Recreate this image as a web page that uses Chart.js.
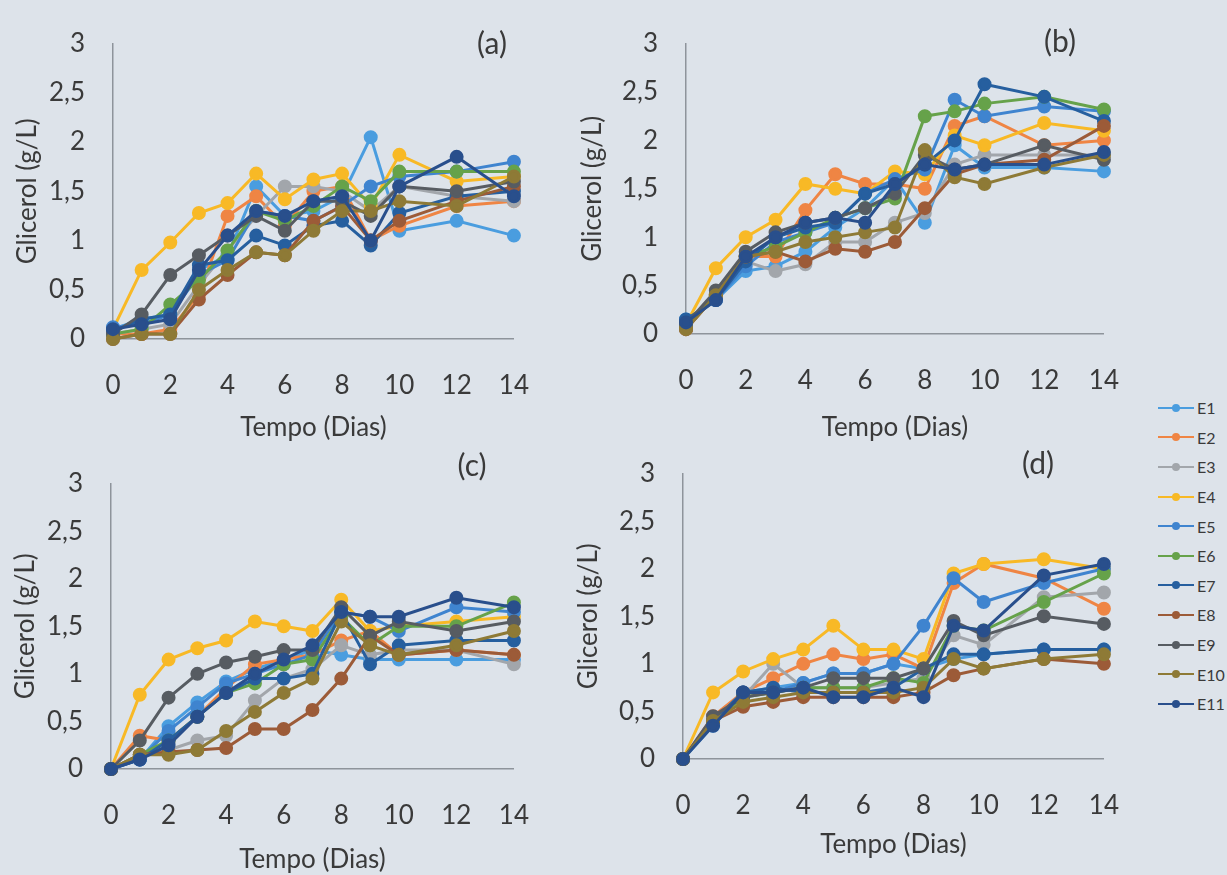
<!DOCTYPE html>
<html>
<head>
<meta charset="utf-8">
<script src="https://cdn.jsdelivr.net/npm/chart.js@4.4.1/dist/chart.umd.min.js"></script>
<style>
  body { margin: 0; width: 1227px; height: 875px; overflow: hidden; position: relative;
         background: #dde3ea; font-family: Lato, sans-serif; }
  canvas { position: absolute; }
  #legend { position: absolute; left: 1158px; top: 393px; }
  .item { height: 29.6px; display: flex; align-items: center; font-size: 16px; color: #3a3a3a; }
  .sw { position: relative; width: 36px; height: 2px; margin-right: 3px; }
  .sw i { position: absolute; left: 14px; top: -3px; width: 8px; height: 8px; border-radius: 50%; }
</style>
</head>
<body>
<canvas id="chartA" width="560" height="450" style="left:0;top:0"></canvas>
<canvas id="chartB" width="580" height="450" style="left:570px;top:0"></canvas>
<canvas id="chartC" width="560" height="435" style="left:0;top:440px"></canvas>
<canvas id="chartD" width="580" height="445" style="left:570px;top:430px"></canvas>
<div id="legend"></div>
<script>
// sampling days
const days = [0, 1, 2, 3, 4, 5, 6, 7, 8, 9, 10, 12, 14];
const xTickLabels = ['0', '2', '4', '6', '8', '10', '12', '14'];
const yTickLabels = ['0', '0,5', '1', '1,5', '2', '2,5', '3'];
const seriesNames = ['E1', 'E2', 'E3', 'E4', 'E5', 'E6', 'E7', 'E8', 'E9', 'E10', 'E11'];
const seriesColors = ['#4a9ddf', '#ef8544', '#a2a6ab', '#f8b926', '#3f84cf', '#66a24a',
                      '#265f9f', '#9c5b38', '#575c62', '#8e7a36', '#294f8c'];

// glicerol (g/L), one row per series E1..E11
const glicerolA = [
  [0.10, 0.20, 0.25, 0.70, 0.85, 1.55, 1.25, 1.30, 1.45, 2.05, 1.10, 1.20, 1.05],
  [0.05, 0.05, 0.10, 0.45, 1.25, 1.45, 1.15, 1.50, 1.55, 1.00, 1.15, 1.35, 1.40],
  [0.05, 0.10, 0.15, 0.55, 0.90, 1.25, 1.55, 1.55, 1.50, 1.30, 1.55, 1.45, 1.40],
  [0.10, 0.70, 0.98, 1.28, 1.38, 1.68, 1.42, 1.62, 1.68, 1.35, 1.87, 1.60, 1.65],
  [0.12, 0.15, 0.25, 0.65, 0.80, 1.30, 1.25, 1.20, 1.35, 1.55, 1.65, 1.70, 1.80],
  [0.05, 0.10, 0.35, 0.60, 0.90, 1.30, 1.20, 1.35, 1.55, 1.40, 1.70, 1.70, 1.70],
  [0.08, 0.20, 0.25, 0.75, 0.80, 1.05, 0.95, 1.15, 1.20, 0.95, 1.28, 1.45, 1.50],
  [0.00, 0.05, 0.05, 0.40, 0.65, 0.88, 0.85, 1.20, 1.35, 1.00, 1.20, 1.40, 1.55],
  [0.05, 0.25, 0.65, 0.85, 1.05, 1.25, 1.10, 1.40, 1.40, 1.25, 1.55, 1.50, 1.60],
  [0.00, 0.05, 0.05, 0.50, 0.70, 0.88, 0.85, 1.10, 1.30, 1.30, 1.40, 1.35, 1.65],
  [0.10, 0.15, 0.20, 0.70, 1.05, 1.30, 1.25, 1.40, 1.45, 1.00, 1.55, 1.85, 1.45]
];
const glicerolB = [
  [0.15, 0.35, 0.65, 0.70, 0.85, 1.10, 1.30, 1.60, 1.15, 1.95, 1.72, 1.72, 1.68],
  [0.05, 0.40, 0.80, 0.80, 1.28, 1.65, 1.55, 1.55, 1.50, 2.15, 2.25, 1.95, 2.00],
  [0.05, 0.40, 0.75, 0.65, 0.72, 0.95, 0.95, 1.15, 1.25, 1.75, 1.85, 1.85, 1.85],
  [0.10, 0.68, 1.00, 1.18, 1.55, 1.50, 1.45, 1.68, 1.65, 2.05, 1.95, 2.18, 2.10],
  [0.12, 0.35, 0.70, 0.95, 1.05, 1.15, 1.45, 1.60, 1.70, 2.42, 2.25, 2.35, 2.30],
  [0.10, 0.40, 0.80, 0.90, 1.05, 1.20, 1.30, 1.40, 2.25, 2.30, 2.38, 2.45, 2.32],
  [0.15, 0.35, 0.75, 1.00, 1.10, 1.15, 1.45, 1.55, 1.75, 2.00, 2.58, 2.45, 2.20],
  [0.05, 0.40, 0.80, 0.85, 0.75, 0.88, 0.85, 0.95, 1.30, 1.65, 1.75, 1.80, 2.15],
  [0.10, 0.45, 0.85, 1.05, 1.15, 1.20, 1.30, 1.45, 1.85, 1.70, 1.75, 1.95, 1.80],
  [0.05, 0.40, 0.80, 0.85, 0.95, 1.00, 1.05, 1.10, 1.90, 1.62, 1.55, 1.72, 1.85],
  [0.12, 0.35, 0.80, 1.00, 1.15, 1.20, 1.15, 1.55, 1.75, 1.70, 1.75, 1.75, 1.88]
];
const glicerolC = [
  [0.00, 0.10, 0.45, 0.70, 0.92, 1.05, 1.15, 1.25, 1.20, 1.15, 1.15, 1.15, 1.15],
  [0.00, 0.35, 0.30, 0.55, 0.85, 1.10, 1.15, 1.20, 1.35, 1.45, 1.20, 1.25, 1.20],
  [0.00, 0.15, 0.20, 0.30, 0.35, 0.72, 0.95, 1.05, 1.30, 1.20, 1.25, 1.25, 1.10],
  [0.00, 0.78, 1.15, 1.27, 1.35, 1.55, 1.50, 1.45, 1.78, 1.45, 1.50, 1.55, 1.60],
  [0.00, 0.10, 0.40, 0.65, 0.90, 1.00, 1.10, 1.20, 1.65, 1.60, 1.45, 1.70, 1.65],
  [0.00, 0.15, 0.30, 0.55, 0.80, 0.90, 1.10, 1.15, 1.60, 1.30, 1.50, 1.50, 1.75],
  [0.00, 0.10, 0.30, 0.55, 0.80, 0.95, 0.95, 1.00, 1.65, 1.10, 1.30, 1.35, 1.35],
  [0.00, 0.15, 0.18, 0.20, 0.22, 0.42, 0.42, 0.62, 0.95, 1.40, 1.20, 1.25, 1.20],
  [0.00, 0.30, 0.75, 1.00, 1.12, 1.18, 1.25, 1.25, 1.70, 1.40, 1.55, 1.45, 1.55],
  [0.00, 0.15, 0.15, 0.20, 0.40, 0.60, 0.80, 0.95, 1.55, 1.30, 1.20, 1.30, 1.45],
  [0.00, 0.10, 0.25, 0.55, 0.80, 1.00, 1.15, 1.30, 1.65, 1.60, 1.60, 1.80, 1.70]
];
const glicerolD = [
  [0.00, 0.35, 0.70, 0.75, 0.80, 0.90, 0.90, 1.00, 0.95, 1.05, 1.10, 1.15, 1.15],
  [0.00, 0.45, 0.70, 0.85, 1.00, 1.10, 1.05, 1.10, 0.95, 1.85, 2.05, 1.90, 1.58],
  [0.00, 0.40, 0.65, 1.00, 0.75, 0.75, 0.75, 0.80, 0.85, 1.30, 1.20, 1.70, 1.75],
  [0.00, 0.70, 0.92, 1.05, 1.15, 1.40, 1.15, 1.15, 1.05, 1.95, 2.05, 2.10, 2.00],
  [0.00, 0.40, 0.70, 0.70, 0.80, 0.90, 0.90, 1.00, 1.40, 1.90, 1.65, 1.85, 2.00],
  [0.00, 0.40, 0.65, 0.70, 0.75, 0.75, 0.75, 0.85, 0.80, 1.40, 1.35, 1.65, 1.95],
  [0.00, 0.40, 0.70, 0.75, 0.70, 0.70, 0.70, 0.75, 0.95, 1.10, 1.10, 1.15, 1.15],
  [0.00, 0.40, 0.55, 0.60, 0.65, 0.65, 0.65, 0.65, 0.70, 0.88, 0.95, 1.05, 1.00],
  [0.00, 0.45, 0.65, 0.70, 0.75, 0.85, 0.85, 0.85, 0.95, 1.45, 1.30, 1.50, 1.42],
  [0.00, 0.40, 0.60, 0.65, 0.70, 0.70, 0.70, 0.70, 0.75, 1.05, 0.95, 1.05, 1.10],
  [0.00, 0.35, 0.70, 0.70, 0.75, 0.65, 0.65, 0.75, 0.65, 1.40, 1.35, 1.93, 2.05]
];

const textColor = '#3a3a3a';
const axisColor = '#8e949b';
const font = { family: 'Lato', size: 26 };

// small text tag "(a)", "(b)" ... in the corner of each panel
const panelTag = {
  id: 'panelTag',
  afterDraw(chart, args, opts) {
    const ctx = chart.ctx;
    ctx.save();
    ctx.font = '30px Lato';
    ctx.fillStyle = textColor;
    ctx.textAlign = 'center';
    ctx.textBaseline = 'middle';
    ctx.fillText(opts.text, opts.x, opts.y);
    ctx.restore();
  }
};

// canvas-relative geometry of each plot
const panels = [
  { id: 'chartA', data: glicerolA, tag: '(a)', tagX: 492, tagY: 44, w: 560, h: 450,
    left: 113, top: 31, right: 533, bottom: 339, xAxisH: 104, yTitleX: 27 },
  { id: 'chartB', data: glicerolB, tag: '(b)', tagX: 490, tagY: 42, w: 580, h: 450,
    left: 116, top: 26, right: 538, bottom: 334, xAxisH: 109, yTitleX: 22 },
  { id: 'chartC', data: glicerolC, tag: '(c)', tagX: 472, tagY: 26, w: 560, h: 435,
    left: 111, top: 21, right: 528, bottom: 329, xAxisH: 106, yTitleX: 25 },
  { id: 'chartD', data: glicerolD, tag: '(d)', tagX: 468, tagY: 34, w: 580, h: 445,
    left: 113, top: 23, right: 535, bottom: 329, xAxisH: 101, yTitleX: 18 }
];

panels.forEach(p => {
  const datasets = p.data.map((row, i) => ({
    label: seriesNames[i],
    data: row.map((v, j) => ({ x: days[j], y: v })),
    borderColor: seriesColors[i],
    backgroundColor: seriesColors[i],
    pointBackgroundColor: seriesColors[i],
    pointBorderColor: seriesColors[i],
    borderWidth: 3,
    pointRadius: 5.5,
    tension: 0,
    clip: false,
    order: seriesNames.length - i
  }));

  new Chart(document.getElementById(p.id), {
    type: 'line',
    data: { datasets: datasets },
    plugins: [panelTag],
    options: {
      responsive: false,
      animation: false,
      layout: { padding: { left: 0, top: p.top, right: p.w - p.right, bottom: p.h - p.bottom - p.xAxisH } },
      plugins: {
        legend: { display: false },
        tooltip: { enabled: false },
        panelTag: { text: p.tag, x: p.tagX, y: p.tagY }
      },
      scales: {
        x: {
          type: 'linear', min: 0, max: 14,
          grid: { display: false, drawTicks: false },
          border: { display: true, color: axisColor, width: 1.5 },
          ticks: { stepSize: 2, autoSkip: false, maxRotation: 0, padding: 31, color: textColor, font: font,
                   callback: (v, i) => xTickLabels[i] },
          title: { display: true, text: 'Tempo (Dias)', color: textColor, font: font, padding: 0 },
          afterFit: s => { s.height = p.xAxisH; }
        },
        y: {
          min: 0, max: 3,
          grid: { display: false, drawTicks: false },
          border: { display: true, color: axisColor, width: 1.5 },
          ticks: { stepSize: 0.5, autoSkip: false, padding: 28, color: textColor, font: font,
                   callback: (v, i) => yTickLabels[i] },
          title: { display: true, text: 'Glicerol (g/L)', color: textColor, font: font,
                   padding: { top: p.yTitleX - 15, bottom: 0 } },
          afterFit: s => { s.width = p.left; }
        }
      }
    }
  });
});

// legend
const legend = document.getElementById('legend');
seriesNames.forEach((name, i) => {
  const item = document.createElement('div');
  item.className = 'item';
  item.innerHTML = '<span class="sw" style="background:' + seriesColors[i] + '"><i style="background:' +
    seriesColors[i] + '"></i></span>' + name;
  legend.appendChild(item);
});
</script>
</body>
</html>
